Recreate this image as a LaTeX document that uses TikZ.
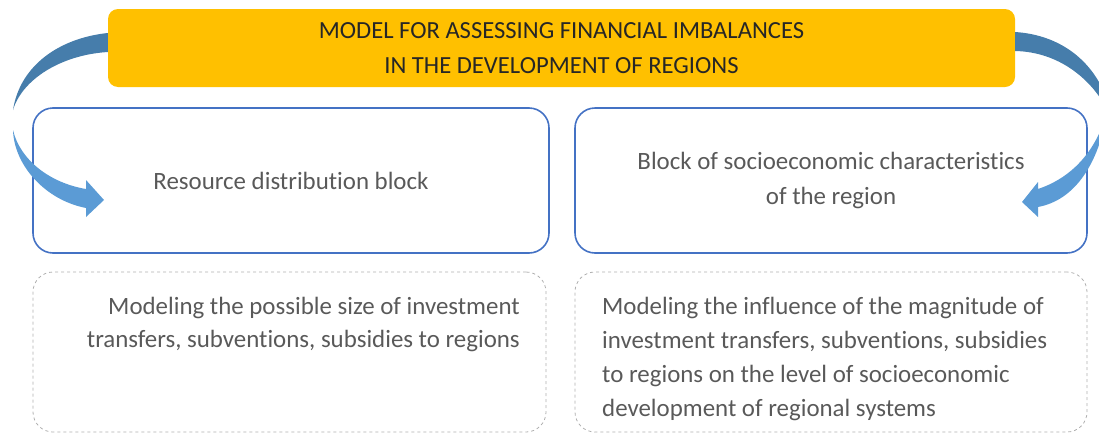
\documentclass[tikz,border=0pt]{standalone}
\usepackage{fontspec}
\setmainfont{Carlito}[Ligatures=CommonOff]
\definecolor{ybox}{HTML}{FFC000}
\definecolor{bline}{HTML}{4472C4}
\definecolor{darkb}{HTML}{467DAB}
\definecolor{lightb}{HTML}{5B9BD5}
\definecolor{txt}{HTML}{595959}
\definecolor{dashc}{HTML}{AFAFAF}
\begin{document}
\begin{tikzpicture}[x=1pt,y=-1pt,
  titlebox/.style={fill=ybox,rounded corners=10pt,minimum width=907pt,minimum height=78pt,align=center,
    font={\fontsize{24.6}{35}\selectfont},text=black!85},
  blockbox/.style={draw=bline,line width=1.6pt,rounded corners=20pt,minimum height=145pt,align=center,
    font={\fontsize{24.9}{35}\selectfont},text=txt},
  dashbox/.style={draw=dashc,dashed,line width=0.8pt,rounded corners=20pt,minimum height=160pt},
  bodytext/.style={font={\fontsize{24.9}{33.8}\selectfont},text=txt,inner sep=0pt}]
\useasboundingbox (0,0) rectangle (1099,434);
\clip (0,0) rectangle (1099,434);
\node[titlebox] (title) at (561.5,48) {MODEL FOR ASSESSING FINANCIAL IMBALANCES\\IN THE DEVELOPMENT OF REGIONS};
\node[blockbox,minimum width=516pt] (left) at (291,180.5) {Resource distribution block};
\node[blockbox,minimum width=512pt] (right) at (831,180.5) {Block of socioeconomic characteristics\\of the region};
\node[dashbox,minimum width=513pt] (dl) at (289.5,352) {};
\node[dashbox,minimum width=512pt] (dr) at (831,352) {};
\node[bodytext,anchor=east,align=right] (tl) at (520,324.5) {Modeling the possible size of investment\\transfers, subventions, subsidies to regions};
\node[bodytext,anchor=west,align=left] (tr) at (602,359) {Modeling the influence of the magnitude of\\investment transfers, subventions, subsidies\\to regions on the level of socioeconomic\\development of regional systems};
% left curved arrow
\fill[darkb] (title.west |- 0,33) .. controls (60,38) and (20,65) .. (13,110) .. controls (22,80) and (60,55) .. (title.west |- 0,52) -- cycle;
\fill[lightb] (13,130) .. controls (14,165) and (45,200) .. (86,208) -- (86,217) -- (104,200) -- (86,180) -- (86,189) .. controls (50,183) and (20,160) .. (13,130) -- cycle;
% right curved arrow
\fill[darkb] (title.east |- 0,32) .. controls (1060,35) and (1090,60) .. (1104,92) -- (1104,104) .. controls (1090,80) and (1060,52) .. (title.east |- 0,51) -- cycle;
\fill[lightb] (1104,128) .. controls (1095,165) and (1075,200) .. (1038,207) -- (1038,217) -- (1022,202) -- (1038,182) -- (1038,189) .. controls (1065,180) and (1090,160) .. (1104,122) -- cycle;
\end{tikzpicture}
\end{document}
